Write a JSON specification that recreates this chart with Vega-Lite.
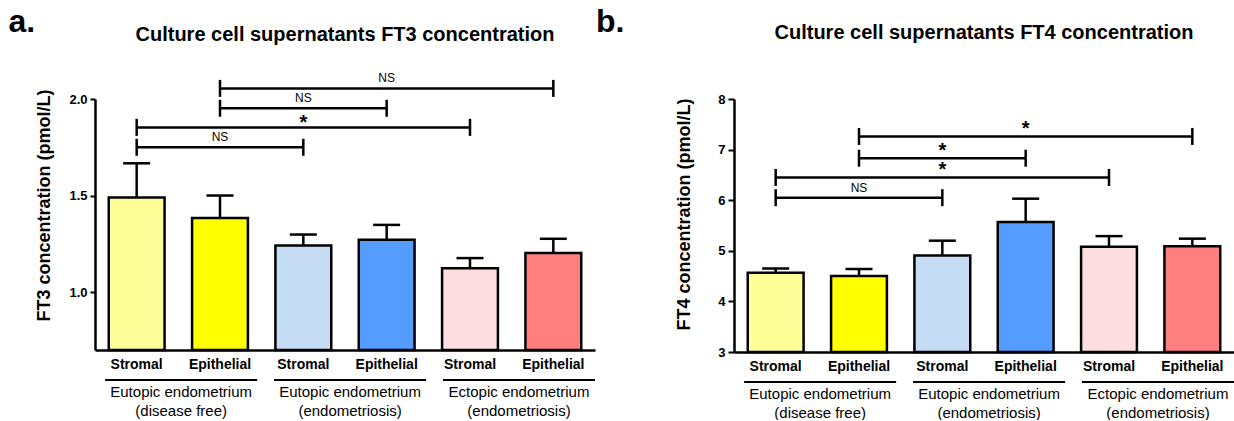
{
  "$schema": "https://vega.github.io/schema/vega-lite/v6.json",
  "background": "white",
  "padding": {"left": 8, "top": 6, "right": 0, "bottom": 0},
  "config": {
    "font": "Liberation Sans",
    "view": {"stroke": null},
    "axis": {"grid": false, "domainColor": "black", "domainWidth": 2.5, "tickColor": "black", "tickWidth": 2, "labelColor": "black", "titleColor": "black"},
    "title": {"color": "black"}
  },
  "datasets": {
    "ft3": [
      {"cat": "Eutopic (disease free) / Stromal", "mean": 1.49, "upper": 1.667},
      {"cat": "Eutopic (disease free) / Epithelial", "mean": 1.384, "upper": 1.5},
      {"cat": "Eutopic (endometriosis) / Stromal", "mean": 1.241, "upper": 1.298},
      {"cat": "Eutopic (endometriosis) / Epithelial", "mean": 1.271, "upper": 1.348},
      {"cat": "Ectopic (endometriosis) / Stromal", "mean": 1.124, "upper": 1.176},
      {"cat": "Ectopic (endometriosis) / Epithelial", "mean": 1.202, "upper": 1.276}
    ],
    "ft3br": [
      {"from": "Eutopic (disease free) / Epithelial", "to": "Ectopic (endometriosis) / Epithelial", "mid": "Eutopic (endometriosis) / Epithelial", "level": 2.055, "label": "NS"},
      {"from": "Eutopic (disease free) / Epithelial", "to": "Eutopic (endometriosis) / Epithelial", "mid": "Eutopic (endometriosis) / Stromal", "level": 1.952, "label": "NS"},
      {"from": "Eutopic (disease free) / Stromal", "to": "Ectopic (endometriosis) / Stromal", "mid": "Eutopic (endometriosis) / Stromal", "level": 1.853, "label": "*"},
      {"from": "Eutopic (disease free) / Stromal", "to": "Eutopic (endometriosis) / Stromal", "mid": "Eutopic (disease free) / Epithelial", "level": 1.75, "label": "NS"}
    ],
    "ft4": [
      {"cat": "Eutopic (disease free) / Stromal", "mean": 4.564, "upper": 4.65},
      {"cat": "Eutopic (disease free) / Epithelial", "mean": 4.5, "upper": 4.64},
      {"cat": "Eutopic (endometriosis) / Stromal", "mean": 4.907, "upper": 5.2},
      {"cat": "Eutopic (endometriosis) / Epithelial", "mean": 5.57, "upper": 6.03},
      {"cat": "Ectopic (endometriosis) / Stromal", "mean": 5.08, "upper": 5.29},
      {"cat": "Ectopic (endometriosis) / Epithelial", "mean": 5.09, "upper": 5.24}
    ],
    "ft4br": [
      {"from": "Eutopic (disease free) / Epithelial", "to": "Ectopic (endometriosis) / Epithelial", "mid": "Eutopic (endometriosis) / Epithelial", "level": 7.26, "label": "*"},
      {"from": "Eutopic (disease free) / Epithelial", "to": "Eutopic (endometriosis) / Epithelial", "mid": "Eutopic (endometriosis) / Stromal", "level": 6.83, "label": "*"},
      {"from": "Eutopic (disease free) / Stromal", "to": "Ectopic (endometriosis) / Stromal", "mid": "Eutopic (endometriosis) / Stromal", "level": 6.45, "label": "*"},
      {"from": "Eutopic (disease free) / Stromal", "to": "Eutopic (endometriosis) / Stromal", "mid": "Eutopic (disease free) / Epithelial", "level": 6.05, "label": "NS"}
    ],
    "groups": [
      {"group": "Eutopic endometrium|(disease free)"},
      {"group": "Eutopic endometrium|(endometriosis)"},
      {"group": "Ectopic endometrium|(endometriosis)"}
    ]
  },
  "spacing": 0,
  "hconcat": [
    {
      "title": {"text": "a.", "orient": "left", "anchor": "end", "angle": 0, "align": "right", "baseline": "top", "fontSize": 32, "fontWeight": "bold", "offset": -26, "dy": -18},
      "spacing": 8,
      "vconcat": [
        {
          "width": 500,
          "height": 251,
          "title": {"text": "Culture cell supernatants FT3 concentration", "fontSize": 20, "fontWeight": "bold", "anchor": "middle", "offset": 27},
          "layer": [
            {
              "data": {"name": "ft3"},
              "mark": {"type": "bar", "stroke": "black", "strokeWidth": 2.5},
              "encoding": {
                "x": {"field": "cat", "type": "nominal", "sort": null,
                  "scale": {"domain": ["Eutopic (disease free) / Stromal", "Eutopic (disease free) / Epithelial", "Eutopic (endometriosis) / Stromal", "Eutopic (endometriosis) / Epithelial", "Ectopic (endometriosis) / Stromal", "Ectopic (endometriosis) / Epithelial"], "paddingInner": 0.33, "paddingOuter": 0.165},
                  "axis": {"title": null, "labelExpr": "split(datum.label, ' / ')[1]", "labelAngle": 0, "ticks": false, "labelFontSize": 14, "labelFontWeight": "bold", "labelPadding": 7, "labelBaseline": "top"}},
                "y": {"field": "mean", "type": "quantitative",
                  "scale": {"domain": [0.7, 2.0], "zero": false, "nice": false},
                  "axis": {"values": [1.0, 1.5, 2.0], "format": ".1f", "title": "FT3 concentration (pmol/L)", "titleFontSize": 18, "titleFontWeight": "bold", "titlePadding": 15, "titleY": 106, "labelFontSize": 13, "labelFontWeight": "bold", "tickSize": 5, "labelPadding": 3}},
                "y2": {"datum": 0.7},
                "fill": {"field": "cat", "type": "nominal", "legend": null,
                  "scale": {"domain": ["Eutopic (disease free) / Stromal", "Eutopic (disease free) / Epithelial", "Eutopic (endometriosis) / Stromal", "Eutopic (endometriosis) / Epithelial", "Ectopic (endometriosis) / Stromal", "Ectopic (endometriosis) / Epithelial"], "range": ["#FFFF99", "#FFFF00", "#C6DCF5", "#559CFF", "#FFDEE2", "#FF7F7F"]}}
              }
            },
            {
              "data": {"name": "ft3"},
              "mark": {"type": "rule", "color": "black", "strokeWidth": 2.5},
              "encoding": {"x": {"field": "cat", "type": "nominal", "sort": null}, "y": {"field": "mean", "type": "quantitative"}, "y2": {"field": "upper"}}
            },
            {
              "data": {"name": "ft3"},
              "mark": {"type": "tick", "color": "black", "size": 27, "thickness": 2.5, "opacity": 1},
              "encoding": {"x": {"field": "cat", "type": "nominal", "sort": null}, "y": {"field": "upper", "type": "quantitative"}}
            },
            {
              "data": {"name": "ft3br"},
              "mark": {"type": "rule", "color": "black", "strokeWidth": 2.5},
              "encoding": {"x": {"field": "from", "type": "nominal", "sort": null}, "x2": {"field": "to"}, "y": {"field": "level", "type": "quantitative"}}
            },
            {
              "data": {"name": "ft3br"},
              "transform": [{"fold": ["from", "to"], "as": ["end", "pos"]}],
              "mark": {"type": "tick", "orient": "vertical", "color": "black", "size": 17, "thickness": 2.5, "opacity": 1},
              "encoding": {"x": {"field": "pos", "type": "nominal", "sort": null}, "y": {"field": "level", "type": "quantitative"}}
            },
            {
              "data": {"name": "ft3br"},
              "transform": [{"filter": "datum.label === 'NS'"}],
              "mark": {"type": "text", "fontSize": 12, "dy": -6, "baseline": "alphabetic", "color": "black"},
              "encoding": {"x": {"field": "mid", "type": "nominal", "sort": null}, "y": {"field": "level", "type": "quantitative"}, "text": {"field": "label"}}
            },
            {
              "data": {"name": "ft3br"},
              "transform": [{"filter": "datum.label !== 'NS'"}],
              "mark": {"type": "text", "fontSize": 20, "fontWeight": "bold", "dy": 2, "baseline": "alphabetic", "color": "black"},
              "encoding": {"x": {"field": "mid", "type": "nominal", "sort": null}, "y": {"field": "level", "type": "quantitative"}, "text": {"field": "label"}}
            }
          ]
        },
        {
          "width": 500,
          "height": 2,
          "data": {"name": "groups"},
          "mark": {"type": "bar", "color": "black"},
          "encoding": {
            "x": {"field": "group", "type": "nominal", "sort": null,
              "scale": {"paddingInner": 0.1, "paddingOuter": 0.03, "align": 1},
              "axis": {"title": null, "domain": false, "ticks": false, "labelAngle": 0, "labelExpr": "split(datum.label, '|')", "labelFontSize": 15, "labelLineHeight": 19, "labelPadding": 3, "labelBaseline": "top"}}
          }
        }
      ]
    },
    {
      "title": {"text": "b.", "orient": "left", "anchor": "end", "angle": 0, "align": "right", "baseline": "top", "fontSize": 32, "fontWeight": "bold", "offset": 23, "dy": -16},
      "spacing": 8,
      "vconcat": [
        {
          "width": 500,
          "height": 253,
          "title": {"text": "Culture cell supernatants FT4 concentration", "fontSize": 20, "fontWeight": "bold", "anchor": "middle", "offset": 50},
          "layer": [
            {
              "data": {"name": "ft4"},
              "mark": {"type": "bar", "stroke": "black", "strokeWidth": 2.5},
              "encoding": {
                "x": {"field": "cat", "type": "nominal", "sort": null,
                  "scale": {"domain": ["Eutopic (disease free) / Stromal", "Eutopic (disease free) / Epithelial", "Eutopic (endometriosis) / Stromal", "Eutopic (endometriosis) / Epithelial", "Ectopic (endometriosis) / Stromal", "Ectopic (endometriosis) / Epithelial"], "paddingInner": 0.33, "paddingOuter": 0.165},
                  "axis": {"title": null, "labelExpr": "split(datum.label, ' / ')[1]", "labelAngle": 0, "ticks": false, "labelFontSize": 14, "labelFontWeight": "bold", "labelPadding": 7, "labelBaseline": "top"}},
                "y": {"field": "mean", "type": "quantitative",
                  "scale": {"domain": [3, 8], "zero": false, "nice": false},
                  "axis": {"values": [3, 4, 5, 6, 7, 8], "format": "d", "title": "FT4 concentration (pmol/L)", "titleFontSize": 18, "titleFontWeight": "bold", "titlePadding": 24, "titleY": 115, "labelFontSize": 13, "labelFontWeight": "bold", "tickSize": 6, "labelPadding": 3}},
                "y2": {"datum": 3},
                "fill": {"field": "cat", "type": "nominal", "legend": null,
                  "scale": {"domain": ["Eutopic (disease free) / Stromal", "Eutopic (disease free) / Epithelial", "Eutopic (endometriosis) / Stromal", "Eutopic (endometriosis) / Epithelial", "Ectopic (endometriosis) / Stromal", "Ectopic (endometriosis) / Epithelial"], "range": ["#FFFF99", "#FFFF00", "#C6DCF5", "#559CFF", "#FFDEE2", "#FF7F7F"]}}
              }
            },
            {
              "data": {"name": "ft4"},
              "mark": {"type": "rule", "color": "black", "strokeWidth": 2.5},
              "encoding": {"x": {"field": "cat", "type": "nominal", "sort": null}, "y": {"field": "mean", "type": "quantitative"}, "y2": {"field": "upper"}}
            },
            {
              "data": {"name": "ft4"},
              "mark": {"type": "tick", "color": "black", "size": 27, "thickness": 2.5, "opacity": 1},
              "encoding": {"x": {"field": "cat", "type": "nominal", "sort": null}, "y": {"field": "upper", "type": "quantitative"}}
            },
            {
              "data": {"name": "ft4br"},
              "mark": {"type": "rule", "color": "black", "strokeWidth": 2.5},
              "encoding": {"x": {"field": "from", "type": "nominal", "sort": null}, "x2": {"field": "to"}, "y": {"field": "level", "type": "quantitative"}}
            },
            {
              "data": {"name": "ft4br"},
              "transform": [{"fold": ["from", "to"], "as": ["end", "pos"]}],
              "mark": {"type": "tick", "orient": "vertical", "color": "black", "size": 17, "thickness": 2.5, "opacity": 1},
              "encoding": {"x": {"field": "pos", "type": "nominal", "sort": null}, "y": {"field": "level", "type": "quantitative"}}
            },
            {
              "data": {"name": "ft4br"},
              "transform": [{"filter": "datum.label === 'NS'"}],
              "mark": {"type": "text", "fontSize": 12, "dy": -6, "baseline": "alphabetic", "color": "black"},
              "encoding": {"x": {"field": "mid", "type": "nominal", "sort": null}, "y": {"field": "level", "type": "quantitative"}, "text": {"field": "label"}}
            },
            {
              "data": {"name": "ft4br"},
              "transform": [{"filter": "datum.label !== 'NS'"}],
              "mark": {"type": "text", "fontSize": 20, "fontWeight": "bold", "dy": -1, "baseline": "alphabetic", "color": "black"},
              "encoding": {"x": {"field": "mid", "type": "nominal", "sort": null}, "y": {"field": "level", "type": "quantitative"}, "text": {"field": "label"}}
            }
          ]
        },
        {
          "width": 500,
          "height": 2,
          "data": {"name": "groups"},
          "mark": {"type": "bar", "color": "black"},
          "encoding": {
            "x": {"field": "group", "type": "nominal", "sort": null,
              "scale": {"paddingInner": 0.1, "paddingOuter": 0.03, "align": 1},
              "axis": {"title": null, "domain": false, "ticks": false, "labelAngle": 0, "labelExpr": "split(datum.label, '|')", "labelFontSize": 15, "labelLineHeight": 19, "labelPadding": 3, "labelBaseline": "top"}}
          }
        }
      ]
    }
  ]
}
